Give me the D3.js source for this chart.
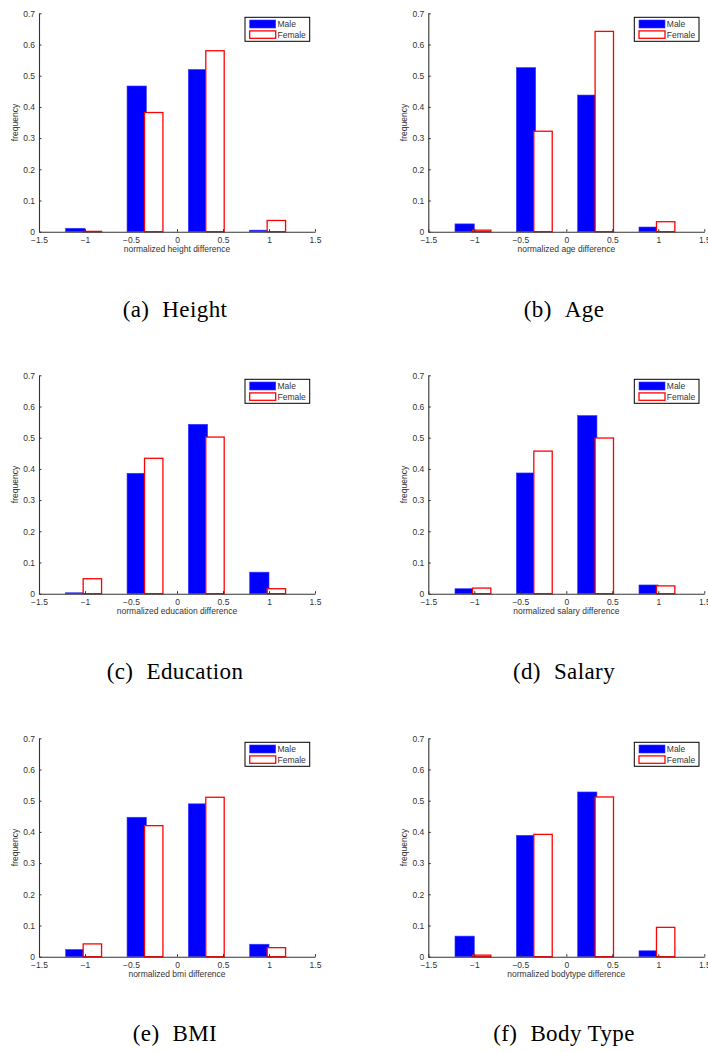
<!DOCTYPE html>
<html>
<head>
<meta charset="utf-8">
<script src="https://cdn.jsdelivr.net/npm/d3@7"></script>
<style>
  html, body { margin: 0; padding: 0; background: #fff; }
  svg { display: block; }
</style>
</head>
<body>
<svg id="chart" width="708" height="1052"></svg>
<script>
// ---- data ----
const captionLetters = ["(a)", "(b)", "(c)", "(d)", "(e)", "(f)"];
const captionNames = ["Height", "Age", "Education", "Salary", "BMI", "Body Type"];
const xLabels = [
  "normalized height difference",
  "normalized age difference",
  "normalized education difference",
  "normalized salary difference",
  "normalized bmi difference",
  "normalized bodytype difference"
];
const binCenters = [-1, -0.333, 0.333, 1];
const seriesNames = ["Male", "Female"];
const maleFreq = [
  [0.011, 0.467, 0.520, 0.005],
  [0.025, 0.526, 0.438, 0.015],
  [0.003, 0.386, 0.543, 0.069],
  [0.016, 0.387, 0.571, 0.028],
  [0.023, 0.447, 0.490, 0.040],
  [0.066, 0.389, 0.528, 0.019]
];
const femaleFreq = [
  [0.001, 0.382, 0.580, 0.036],
  [0.005, 0.322, 0.642, 0.032],
  [0.048, 0.434, 0.502, 0.016],
  [0.018, 0.457, 0.499, 0.025],
  [0.041, 0.420, 0.511, 0.029],
  [0.005, 0.392, 0.512, 0.094]
];
const xTicks = [-1.5, -1, -0.5, 0, 0.5, 1, 1.5];
const yTicks = [0, 0.1, 0.2, 0.3, 0.4, 0.5, 0.6, 0.7];

// ---- layout ----
const svg = d3.select("#chart");
const colX = [39, 428.3];
const rowY = [13.3, 375.3, 738.3];
const plotW = 276, plotH = 218.4;
const captionCX = [175, 564];
const captionBaseline = [317, 679, 1041];
const axisColor = "#333";
const fontSans = "'Liberation Sans', Arial, Helvetica, sans-serif";
const fmt = d => d3.format("")(d).replace("-", "\u2212");

captionNames.forEach((name, i) => {
  const col = i % 2, row = Math.floor(i / 2);
  const x0 = colX[col], y0 = rowY[row];
  const g = svg.append("g").attr("transform", `translate(${x0},${y0})`);
  const xs = d3.scaleLinear().domain([-1.5, 1.5]).range([0, plotW]);
  const ys = d3.scaleLinear().domain([0, 0.7]).range([plotH, 0]);

  // male bars
  g.selectAll("rect.male").data(maleFreq[i]).join("rect")
    .attr("class", "male")
    .attr("x", (d, j) => xs(binCenters[j] - 0.21))
    .attr("width", (d, j) => xs(binCenters[j]) - xs(binCenters[j] - 0.21))
    .attr("y", d => ys(d))
    .attr("height", d => ys(0) - ys(d))
    .attr("fill", "#0000ff")
    .attr("stroke", "#3a3aff")
    .attr("stroke-width", 0.6);

  // female bars
  g.selectAll("rect.female").data(femaleFreq[i]).join("rect")
    .attr("class", "female")
    .attr("x", (d, j) => xs(binCenters[j] - 0.02))
    .attr("width", (d, j) => xs(binCenters[j] + 0.18) - xs(binCenters[j] - 0.02))
    .attr("y", d => ys(d))
    .attr("height", d => ys(0) - ys(d))
    .attr("fill", "#fff")
    .attr("stroke", "#ff0000")
    .attr("stroke-width", 1.3);

  // x axis
  const xAxis = g.append("g").attr("transform", `translate(0,${plotH})`)
    .call(d3.axisBottom(xs).tickValues(xTicks).tickFormat(fmt).tickSize(0).tickPadding(5));
  xAxis.select(".domain").attr("stroke", axisColor).attr("stroke-width", 1.1);
  xAxis.selectAll(".tick line").remove();
  xAxis.selectAll(".tick").append("line").attr("y1", 0).attr("y2", -2.5)
    .attr("stroke", axisColor).attr("stroke-width", 1);
  xAxis.selectAll("text").attr("font-family", fontSans).attr("font-size", 8.5).attr("fill", axisColor);

  // y axis
  const yAxis = g.append("g")
    .call(d3.axisLeft(ys).tickValues(yTicks).tickFormat(fmt).tickSize(0).tickPadding(4));
  yAxis.select(".domain").attr("stroke", axisColor).attr("stroke-width", 1.1);
  yAxis.selectAll(".tick line").remove();
  yAxis.selectAll(".tick").append("line").attr("x1", 0).attr("x2", 2.5)
    .attr("stroke", axisColor).attr("stroke-width", 1);
  yAxis.selectAll("text").attr("font-family", fontSans).attr("font-size", 8.5).attr("fill", axisColor);

  // axis labels
  g.append("text")
    .attr("x", plotW / 2).attr("y", plotH + 20.5)
    .attr("text-anchor", "middle")
    .attr("font-family", fontSans).attr("font-size", 8.5).attr("fill", axisColor)
    .text(xLabels[i]);
  g.append("text")
    .attr("transform", `translate(-21,${plotH / 2}) rotate(-90)`)
    .attr("text-anchor", "middle")
    .attr("font-family", fontSans).attr("font-size", 8.5).attr("fill", axisColor)
    .text("frequency");

  // legend
  const lg = g.append("g").attr("transform", `translate(${plotW - 70},4)`);
  lg.append("rect").attr("x", 0).attr("y", 0).attr("width", 64.7).attr("height", 24)
    .attr("fill", "#fff").attr("stroke", "#000").attr("stroke-width", 1);
  const sw = [
    { fill: "#0000ff", stroke: "#3a3aff", sw: 0.6, y: 2.7, h: 8 },
    { fill: "#fff", stroke: "#ff0000", sw: 1.3, y: 13.6, h: 7.4 }
  ];
  seriesNames.forEach((s, k) => {
    lg.append("rect").attr("x", 4.7).attr("y", sw[k].y).attr("width", 26).attr("height", sw[k].h)
      .attr("fill", sw[k].fill).attr("stroke", sw[k].stroke).attr("stroke-width", sw[k].sw);
    lg.append("text").attr("x", 32.5).attr("y", sw[k].y + sw[k].h / 2 + 3)
      .attr("font-family", fontSans).attr("font-size", 8.5).attr("fill", axisColor)
      .text(s);
  });

  // caption
  const cap = svg.append("text")
    .attr("x", captionCX[col]).attr("y", captionBaseline[row])
    .attr("text-anchor", "middle")
    .attr("font-family", "'Liberation Serif', 'Times New Roman', serif")
    .attr("font-size", 23)
    .attr("letter-spacing", 0.4)
    .attr("fill", "#000");
  cap.append("tspan").text(captionLetters[i]);
  cap.append("tspan").attr("dx", 13).text(captionNames[i]);
});
</script>
</body>
</html>
